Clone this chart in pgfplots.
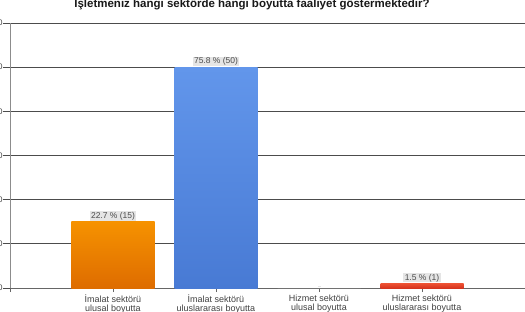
\documentclass[border=0pt]{standalone}
\usepackage{pgfplots}
\pgfplotsset{compat=1.18}
\usepackage{fontspec}
\setmainfont{Liberation Sans}
\begin{document}
\begin{tikzpicture}
\begin{axis}[name=ax, scale only axis, width=515pt, height=265pt,
  xmin=-1, xmax=4, ymin=0, ymax=60,
  ytick={0,10,...,60},
  ymajorgrids, grid style={black!70, line width=0.7pt},
  axis x line*=bottom, axis y line*=left,
  x axis line style={black!60, line width=0.7pt, -},
  y axis line style={black!45, line width=0.9pt, -},
  tick align=outside, major tick length=7pt,
  ytick style={black!70, line width=0.7pt},
  xtick style={black!60, line width=0.7pt, /pgfplots/major tick length=4pt},
  xtick={-1,0,1,2,3,4},
  xticklabels={,{İmalat sektörü\\ulusal boyutta},{İmalat sektörü\\uluslararası boyutta},{Hizmet sektörü\\ulusal boyutta},{Hizmet sektörü\\uluslararası boyutta},},
  xticklabel style={align=center, font=\fontsize{9}{9}\selectfont, text=black!75, yshift=3.5pt},
  yticklabel style={font=\fontsize{8}{9}\selectfont, text=black!75, xshift=3pt},
  /pgf/number format/assume math mode=true,
  ybar, bar width=83pt,
  nodes near coords={\pgfplotspointmeta},
  point meta=explicit symbolic,
  every node near coord/.append style={fill=black!10, inner xsep=1.5pt, inner ysep=0.6pt, font=\fontsize{8.5}{9}\selectfont, text=black!70, yshift=1pt},
]
\addplot[bar shift=0pt, draw=none, top color={rgb,255:red,246;green,146;blue,0}, bottom color={rgb,255:red,222;green,108;blue,0}] coordinates {(0,15) [22.7 \% (15)]};
\addplot[bar shift=0pt, draw=none, top color={rgb,255:red,98;green,150;blue,235}, bottom color={rgb,255:red,72;green,122;blue,212}] coordinates {(1,50) [75.8 \% (50)]};
\addplot[bar shift=0pt, draw=none, fill={rgb,255:red,200;green,200;blue,200}, nodes near coords={}] coordinates {(2,0) []};
\addplot[bar shift=0pt, draw=none, top color={rgb,255:red,236;green,80;blue,50}, bottom color={rgb,255:red,214;green,52;blue,30}] coordinates {(3,1) [1.5 \% (1)]};
\end{axis}
\node[anchor=base, font=\bfseries\fontsize{11.5}{12}\selectfont, text=black!90] at ([xshift=-15.5pt,yshift=15pt]ax.north) {İşletmeniz hangi sektörde hangi boyutta faaliyet göstermektedir?};
\pgfresetboundingbox
\useasboundingbox ([xshift=-10pt,yshift=-23pt]ax.south west) rectangle ([yshift=23pt]ax.north east);
\end{tikzpicture}
\end{document}
